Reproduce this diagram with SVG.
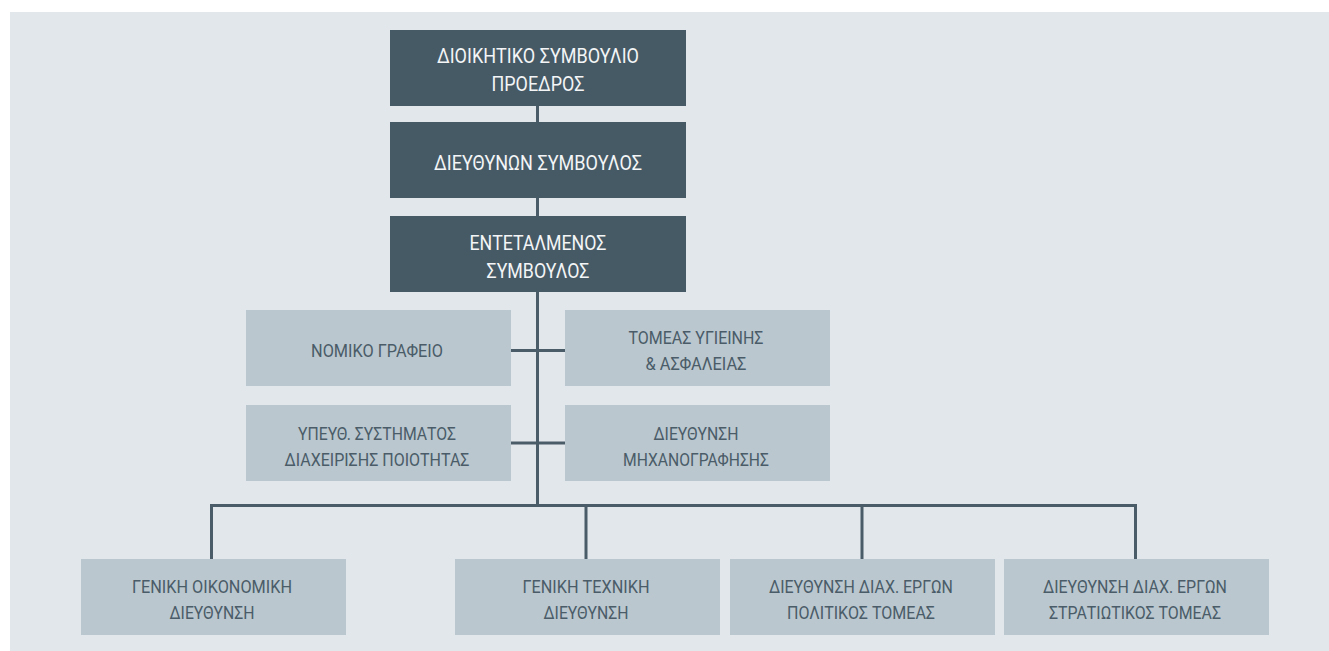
<svg xmlns="http://www.w3.org/2000/svg" width="1329" height="651" viewBox="0 0 1329 651">
<style>
.panel{fill:#E2E7EB}
.dark{fill:#465A66}
.light{fill:#BAC7CF}
.conn{fill:none;stroke:#4A5C68;stroke-width:3;stroke-linejoin:miter;stroke-linecap:butt}
text{font-family:Roboto,"Liberation Sans","Noto Sans",sans-serif;text-anchor:middle;font-weight:400}
.dt{fill:#F3F5F6;font-size:20px}
.lt{fill:#4A5C68;font-size:18px}
</style>
<rect width="1329" height="651" fill="#FFFFFF"/>
<rect class="panel" x="10" y="12" width="1319" height="639"/>
<g id="connectors">
<path class="conn" d="M537.5 106 V507"/>
<path class="conn" d="M511 350.5 H565"/>
<path class="conn" d="M511 443 H565"/>
<path class="conn" d="M211.5 559 V505.5 H1135.5 V559"/>
<path class="conn" d="M586 505.5 V559"/>
<path class="conn" d="M862 505.5 V559"/>
</g>
<g id="board">
<rect class="dark" x="390" y="30" width="296" height="76"/>
<text class="dt" x="538" y="63" textLength="202" lengthAdjust="spacingAndGlyphs">ΔΙΟΙΚΗΤΙΚΟ ΣΥΜΒΟΥΛΙΟ</text>
<text class="dt" x="538" y="91" textLength="93" lengthAdjust="spacingAndGlyphs">ΠΡΟΕΔΡΟΣ</text>
</g>
<g id="ceo">
<rect class="dark" x="390" y="122" width="296" height="76"/>
<text class="dt" x="538" y="170" textLength="208" lengthAdjust="spacingAndGlyphs">ΔΙΕΥΘΥΝΩΝ ΣΥΜΒΟΥΛΟΣ</text>
</g>
<g id="deputy">
<rect class="dark" x="390" y="216" width="296" height="76"/>
<text class="dt" x="538" y="250" textLength="137" lengthAdjust="spacingAndGlyphs">ΕΝΤΕΤΑΛΜΕΝΟΣ</text>
<text class="dt" x="538" y="278" textLength="103" lengthAdjust="spacingAndGlyphs">ΣΥΜΒΟΥΛΟΣ</text>
</g>
<g id="legal">
<rect class="light" x="246" y="310" width="265" height="76"/>
<text class="lt" x="377" y="357" textLength="132" lengthAdjust="spacingAndGlyphs">ΝΟΜΙΚΟ ΓΡΑΦΕΙΟ</text>
</g>
<g id="safety">
<rect class="light" x="565" y="310" width="265" height="76"/>
<text class="lt" x="696" y="344" textLength="135" lengthAdjust="spacingAndGlyphs">ΤΟΜΕΑΣ ΥΓΙΕΙΝΗΣ</text>
<text class="lt" x="696" y="370" textLength="101" lengthAdjust="spacingAndGlyphs">&amp; ΑΣΦΑΛΕΙΑΣ</text>
</g>
<g id="quality">
<rect class="light" x="246" y="405" width="265" height="76"/>
<text class="lt" x="377" y="440" textLength="158" lengthAdjust="spacingAndGlyphs">ΥΠΕΥΘ. ΣΥΣΤΗΜΑΤΟΣ</text>
<text class="lt" x="377" y="466" textLength="185" lengthAdjust="spacingAndGlyphs">ΔΙΑΧΕΙΡΙΣΗΣ ΠΟΙΟΤΗΤΑΣ</text>
</g>
<g id="it">
<rect class="light" x="565" y="405" width="265" height="76"/>
<text class="lt" x="696" y="440" textLength="85" lengthAdjust="spacingAndGlyphs">ΔΙΕΥΘΥΝΣΗ</text>
<text class="lt" x="696" y="466" textLength="146" lengthAdjust="spacingAndGlyphs">ΜΗΧΑΝΟΓΡΑΦΗΣΗΣ</text>
</g>
<g id="finance">
<rect class="light" x="81" y="559" width="265" height="76"/>
<text class="lt" x="212" y="593" textLength="160" lengthAdjust="spacingAndGlyphs">ΓΕΝΙΚΗ ΟΙΚΟΝΟΜΙΚΗ</text>
<text class="lt" x="212" y="619" textLength="85" lengthAdjust="spacingAndGlyphs">ΔΙΕΥΘΥΝΣΗ</text>
</g>
<g id="technical">
<rect class="light" x="455" y="559" width="265" height="76"/>
<text class="lt" x="586" y="593" textLength="127" lengthAdjust="spacingAndGlyphs">ΓΕΝΙΚΗ ΤΕΧΝΙΚΗ</text>
<text class="lt" x="586" y="619" textLength="85" lengthAdjust="spacingAndGlyphs">ΔΙΕΥΘΥΝΣΗ</text>
</g>
<g id="civil">
<rect class="light" x="730" y="559" width="265" height="76"/>
<text class="lt" x="861" y="593" textLength="184" lengthAdjust="spacingAndGlyphs">ΔΙΕΥΘΥΝΣΗ ΔΙΑΧ. ΕΡΓΩΝ</text>
<text class="lt" x="861" y="619" textLength="148" lengthAdjust="spacingAndGlyphs">ΠΟΛΙΤΙΚΟΣ ΤΟΜΕΑΣ</text>
</g>
<g id="military">
<rect class="light" x="1004" y="559" width="265" height="76"/>
<text class="lt" x="1135" y="593" textLength="184" lengthAdjust="spacingAndGlyphs">ΔΙΕΥΘΥΝΣΗ ΔΙΑΧ. ΕΡΓΩΝ</text>
<text class="lt" x="1135" y="619" textLength="172" lengthAdjust="spacingAndGlyphs">ΣΤΡΑΤΙΩΤΙΚΟΣ ΤΟΜΕΑΣ</text>
</g>
</svg>
